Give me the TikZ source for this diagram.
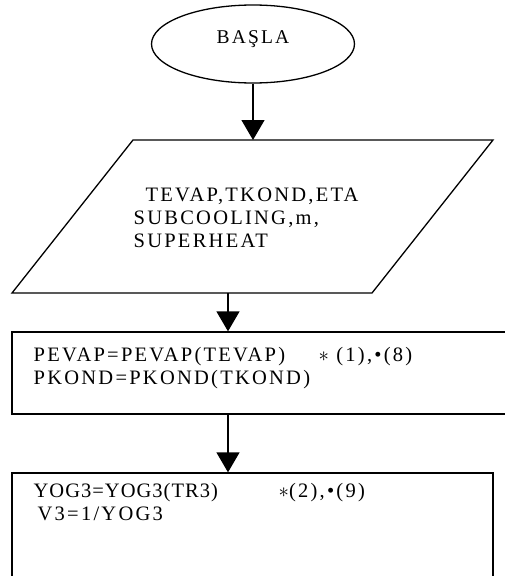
\documentclass[tikz,border=0pt]{standalone}
\usepackage{fontspec}
\setmainfont{Liberation Serif}[LetterSpace=11]
\usetikzlibrary{shapes.geometric,arrows.meta}

\begin{document}
\begin{tikzpicture}[x=1pt, y=-1pt, line width=1.3pt,
    box/.style={draw, rectangle, inner sep=0pt},
    txt/.style={anchor=north west, inner sep=0pt, align=left, font=\fontsize{20.5}{23}\selectfont},
    arr/.style={-{Triangle[width=23pt,length=20pt]}}]

  \useasboundingbox (0,0) rectangle (505,576);
  \clip (0,0) rectangle (505,576);

  % start
  \node[draw, ellipse, minimum width=203pt, minimum height=78pt, inner sep=0pt,
        text height=13pt, text depth=15pt, font=\fontsize{19.5}{22.5}\selectfont] (basla) at (253,44) {BAŞLA};

  % input
  \draw (133,140) -- (493,140) -- (372,293) -- (12,293) -- cycle;
  \coordinate (inTop) at (253,140);
  \coordinate (inBot) at (228,293);
  \node[txt] (input) at (133,187) {\hspace*{12pt}TEVAP,TKOND,ETA\\SUBCOOLING,m,\\SUPERHEAT};

  % process boxes
  \node[box, minimum width=513pt, minimum height=82pt] (pbox) at (268.5,373) {};
  \node[txt] (ptext) at (33,347) {\makebox[285pt][l]{PEVAP=PEVAP(TEVAP)}$\ast$ (1),•(8)\\PKOND=PKOND(TKOND)};

  \node[box, minimum width=481pt, minimum height=147pt] (ybox) at (252.5,546.5) {};
  \node[txt] (ytext) at (33,483) {\makebox[245pt][l]{\addfontfeature{LetterSpace=5}YOG3=YOG3(TR3)}$\ast$(2),•(9)\\\hspace*{4pt}V3=1/YOG3};

  % flow
  \draw[arr] (basla.south) -- (inTop);
  \draw[arr] (inBot) -- (inBot |- pbox.north);
  \draw[arr] (inBot |- pbox.south) -- (inBot |- ybox.north);

\end{tikzpicture}
\end{document}
